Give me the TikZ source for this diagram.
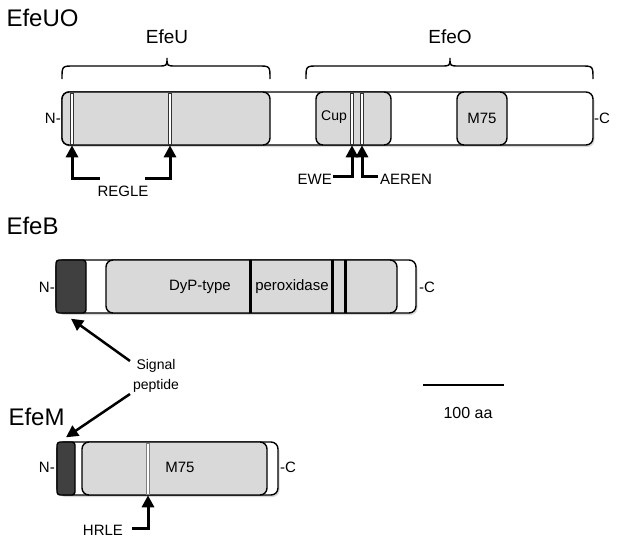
\documentclass[tikz,border=0pt]{standalone}
\usepackage{fontspec}
\setmainfont{Liberation Sans}
\usetikzlibrary{arrows.meta}
\usetikzlibrary{shadows}

\tikzset{
  bar/.style={draw, fill=white, rounded corners=7pt, line width=1.4pt, inner sep=0pt, minimum height=53pt,
    drop shadow={shadow xshift=1.5pt, shadow yshift=-2pt, opacity=0.3}},
  dom/.style={draw, fill=black!15, rounded corners=7pt, line width=1.4pt, inner sep=0pt, minimum height=53pt},
  sigpep/.style={draw, fill=black!75, rounded corners=3pt, line width=1.4pt, inner sep=0pt, minimum height=53pt},
  site/.style={draw=black!80, fill=white, line width=0.6pt, inner sep=0pt, minimum width=3.5pt, minimum height=51pt},
  cut/.style={fill=black, inner sep=0pt, minimum width=3pt, minimum height=53pt},
  motif/.style={line width=3pt, -{Triangle[length=12pt,width=12pt]}},
  sparrow/.style={line width=2.5pt, -{Triangle[length=12pt,width=12pt]}},
  title/.style={font=\fontsize{24}{28}\selectfont, anchor=west},
  lbl/.style={font=\fontsize{15}{17}\selectfont, inner sep=0pt},
  brc/.style={line width=1.4pt}
}

\begin{document}
\begin{tikzpicture}[x=1pt, y=-1pt]
  \useasboundingbox (0,0) rectangle (619,541);

  % EfeUO
  \node[title] (tuo) at (3,18) {EfeUO};
  \node[lbl, font=\fontsize{19}{22}\selectfont] (lu) at (167,37) {EfeU};
  \node[lbl, font=\fontsize{19}{22}\selectfont] (lo) at (450,37) {EfeO};
  \draw[brc] (62,79) .. controls (62,66) .. (74,66) -- (158,66)
    .. controls (167,66) .. (167,58) .. controls (167,66) .. (176,66) -- (258,66) .. controls (270,66) .. (270,79);
  \draw[brc] (306,79) .. controls (306,66) .. (318,66) -- (441,66)
    .. controls (450,66) .. (450,58) .. controls (450,66) .. (459,66) -- (581,66) .. controls (593,66) .. (593,79);

  \node[bar, minimum width=531pt] (uo) at (327.5,118.5) {};
  \node[dom, minimum width=208pt] (efeu) at (166,118.5) {};
  \node[dom, minimum width=75pt] (cup) at (353.5,118.5) {};
  \node[dom, minimum width=50pt] (m75o) at (482,118.5) {};
  \node[site] (s1) at (72,118.5) {};
  \node[site] (s2) at (170,118.5) {};
  \node[site] (s3) at (352,118.5) {};
  \node[site] (s4) at (362,118.5) {};
  \node[lbl, font=\fontsize{14}{16}\selectfont] (lcup) at (334,117) {Cup};
  \node[lbl] (lm75o) at (482,118) {M75};
  \node[lbl, anchor=east] (nuo) at (61,118) {N-};
  \node[lbl, anchor=west] (cuo) at (594,118) {-C};

  \coordinate (a1) at (100,178);
  \coordinate (a2) at (145,178);
  \coordinate (a3) at (333,176);
  \coordinate (a4) at (378,176);
  \draw[motif] (a1) -| ([yshift=-1pt]s1.south);
  \draw[motif] (a2) -| ([yshift=-1pt]s2.south);
  \draw[motif] (a3) -| ([yshift=-1pt]s3.south);
  \draw[motif] (a4) -| ([yshift=-1pt]s4.south);
  \node[lbl] (regle) at (123,191) {REGLE};
  \node[lbl, anchor=east] (ewe) at (332,179) {EWE};
  \node[lbl, anchor=west] (aeren) at (380,179) {AEREN};

  % EfeB
  \node[title] (tb) at (3,226) {EfeB};
  \node[bar, minimum width=360pt] (b) at (236,286.5) {};
  \node[sigpep, minimum width=30pt] (bsp) at (71,286.5) {};
  \node[dom, minimum width=291pt] (dyp) at (251.5,286.5) {};
  \node[cut] (c1) at (250,286.5) {};
  \node[cut] (c2) at (332,286.5) {};
  \node[cut] (c3) at (345,286.5) {};
  \node[lbl] (ldyp) at (200,287) {DyP-type};
  \node[lbl] (lper) at (292,287) {peroxidase};
  \node[lbl, anchor=east] (nb) at (55,287) {N-};
  \node[lbl, anchor=west] (cb) at (419,287) {-C};

  % scale
  \coordinate (sb1) at (423,385);
  \coordinate (sb2) at (504,385);
  \draw[line width=1.5pt] (sb1) -- (sb2);
  \node[lbl, font=\fontsize{16}{18}\selectfont] (lsb) at (468,413) {100 aa};

  % EfeM
  \node[title] (tm) at (5,417) {EfeM};
  \node[bar, minimum width=221pt] (m) at (167.5,468.5) {};
  \node[sigpep, minimum width=18pt] (msp) at (66,468.5) {};
  \node[dom, minimum width=185pt] (m75m) at (174.5,468.5) {};
  \node[site, draw=black!50] (s5) at (148,468.5) {};
  \node[lbl] (lm75m) at (180,467) {M75};
  \node[lbl, anchor=east] (nm) at (55,467) {N-};
  \node[lbl, anchor=west] (cm) at (280,467) {-C};
  \coordinate (a5) at (132,528);
  \draw[motif] (a5) -| ([yshift=-1pt]s5.south);
  \node[lbl] (hrle) at (103,530) {HRLE};

  % signal peptide
  \node[lbl, font=\fontsize{14}{20}\selectfont, align=center] (sig) at (156,376) {Signal\\peptide};
  \coordinate (sp1) at (130,361);
  \coordinate (sp2) at (130,394);
  \draw[sparrow] (sp1) -- ([yshift=-5pt]bsp.south);
  \draw[sparrow] (sp2) -- ([yshift=4pt]msp.north);
\end{tikzpicture}
\end{document}
